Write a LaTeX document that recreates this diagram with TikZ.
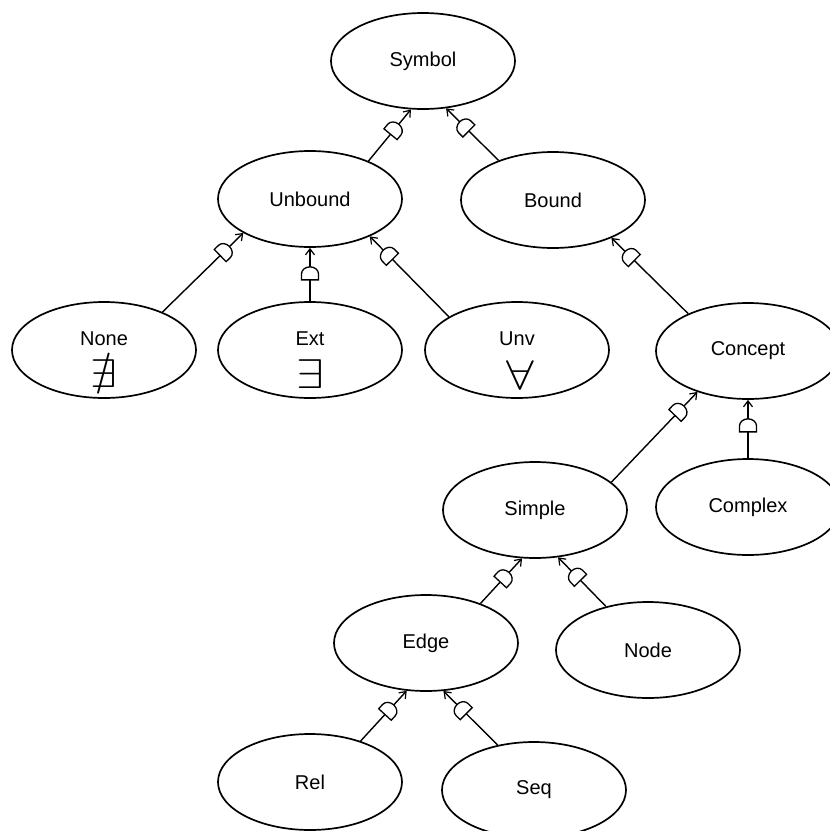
\documentclass[tikz,border=0pt]{standalone}
\usepackage{amssymb}
\usepackage{fontspec}
\setmainfont{Liberation Sans}
\usetikzlibrary{shapes.geometric, arrows.meta, decorations.markings}

\begin{document}
\begin{tikzpicture}[x=1pt, y=-1pt,
  cls/.style={ellipse, draw, line width=1.7pt, minimum width=184pt,
    minimum height=96pt, inner sep=0pt, font=\fontsize{20}{24}\selectfont},
  lbl/.style={inner sep=0pt, font=\fontsize{20}{24}\selectfont},
  quant/.style={inner sep=0pt, font=\fontsize{20}{24}\selectfont,
    xscale=2.4, yscale=2.0},
  % subtype link: open arrow at the parent, half-round gate mark near it
  isa/.style={line width=1.4pt,
    -{Straight Barb[length=6pt, width=9pt, line width=1.2pt]},
    postaction={decorate},
    decoration={markings, mark=at position -26pt with {
      \draw[line width=1.3pt, fill=white]
        (-6pt,-8.5pt) -- (0pt,-8.5pt)
        arc[start angle=-90, end angle=90, x radius=7pt, y radius=8.5pt]
        -- (-6pt,8.5pt) -- cycle;}}}
]
\useasboundingbox (0,0) rectangle (830,831);
\fill[white] (0,0) rectangle (830,831);

% classes
\node[cls] (symbol)  at (423,61)  {Symbol};
\node[cls] (unbound) at (310,199) {Unbound};
\node[cls] (bound)   at (553,200) {Bound};
\node[cls] (none)    at (104,350) {};
\node[cls] (ext)     at (310,350) {};
\node[cls] (unv)     at (517,350) {};
\node[cls] (concept) at (748,351) {Concept};
\node[cls] (simple)  at (535,510) {Simple};
\node[cls] (complex) at (748,507) {Complex};
\node[cls] (edgeC)   at (426,643) {Edge};
\node[cls] (nodeC)   at (648,650) {Node};
\node[cls] (rel)     at (310,782) {Rel};
\node[cls] (seq)     at (534,790) {Seq};

% quantifier classes: name above, symbol below
\node[lbl]   (noneL) at (104,339) {None};
\node[quant] (noneQ) at (104,374) {$\nexists$};
\node[lbl]   (extL)  at (310,339) {Ext};
\node[quant] (extQ)  at (310,374) {$\exists$};
\node[lbl]   (unvL)  at (517,339) {Unv};
\node[quant] (unvQ)  at (520,375) {$\forall$};

% subtype links
\draw[isa] (unbound.33)    -- (symbol.256);
\draw[isa] (bound.144)     -- (symbol.296);
\draw[isa] (none.33)       -- (unbound.207);
\draw[isa] (ext.north)     -- (unbound.south);
\draw[isa] (unv.154)       -- (unbound.328);
\draw[isa] (concept.148)   -- (bound.327);
\draw[isa] (simple.20)     -- (concept.219);
\draw[isa] (complex.north) -- (concept.south);
\draw[isa] (edgeC.36)      -- (simple.255);
\draw[isa] (nodeC.134)     -- (simple.296);
\draw[isa] (rel.39)        -- (edgeC.248);
\draw[isa] (seq.129)       -- (edgeC.290);
\end{tikzpicture}
\end{document}
